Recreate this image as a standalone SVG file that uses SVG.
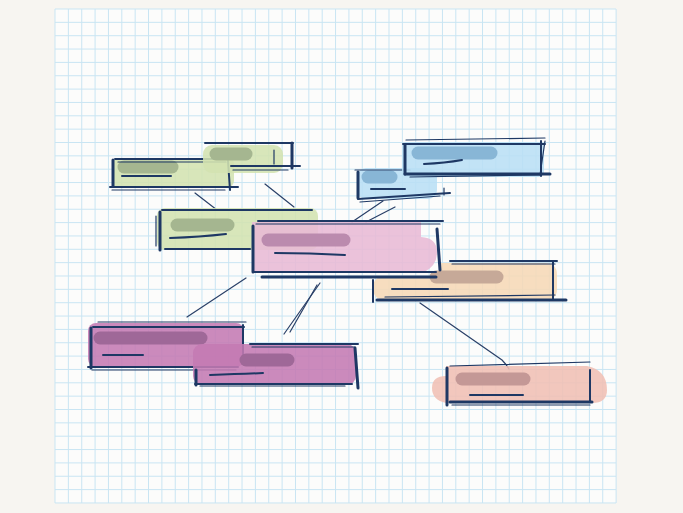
<svg xmlns="http://www.w3.org/2000/svg" width="683" height="513" viewBox="0 0 683 513">
<style>
.grid{fill:none;stroke:#c9e5f3;stroke-width:1}
.ink{fill:none;stroke:#1e3864;stroke-linecap:round;stroke-linejoin:round}
.w3{stroke-width:3}
.w2{stroke-width:2}
.w1{stroke-width:1.2}
.pill{stroke-linecap:round;fill:none;stroke-width:13}
.f{fill-opacity:0.88}
.green{fill:#d3e2b0}
.greenp{stroke:#a5b690}
.blue{fill:#b9dff5}
.bluep{stroke:#88b6d6}
.pink{fill:#e8b9d5}
.pinkp{stroke:#bb8bae}
.peach{fill:#f6d8b6}
.peachp{stroke:#c6a998}
.purple{fill:#c47ab3}
.purplep{stroke:#9f6898}
.salmon{fill:#f0bfb4}
.salmonp{stroke:#c49896}
.conn{fill:none;stroke:#2a4068;stroke-width:1.2;stroke-linecap:round}
</style>
<rect width="683" height="513" fill="#f7f5f1"/>
<rect x="55" y="9" width="561" height="494" fill="#fcfcfb"/>
<path class="grid" d="M55 9V503M68.36 9V503M81.72 9V503M95.08 9V503M108.44 9V503M121.8 9V503M135.16 9V503M148.52 9V503M161.88 9V503M175.24 9V503M188.6 9V503M201.96 9V503M215.32 9V503M228.68 9V503M242.04 9V503M255.4 9V503M268.76 9V503M282.12 9V503M295.48 9V503M308.84 9V503M322.2 9V503M335.56 9V503M348.92 9V503M362.28 9V503M375.64 9V503M389 9V503M402.36 9V503M415.72 9V503M429.08 9V503M442.44 9V503M455.8 9V503M469.16 9V503M482.52 9V503M495.88 9V503M509.24 9V503M522.6 9V503M535.96 9V503M549.32 9V503M562.68 9V503M576.04 9V503M589.4 9V503M602.76 9V503M616.12 9V503M55 9H616M55 22.35H616M55 35.7H616M55 49.05H616M55 62.4H616M55 75.75H616M55 89.1H616M55 102.45H616M55 115.8H616M55 129.15H616M55 142.5H616M55 155.85H616M55 169.2H616M55 182.55H616M55 195.9H616M55 209.25H616M55 222.6H616M55 235.95H616M55 249.3H616M55 262.65H616M55 276H616M55 289.35H616M55 302.7H616M55 316.05H616M55 329.4H616M55 342.75H616M55 356.1H616M55 369.45H616M55 382.8H616M55 396.15H616M55 409.5H616M55 422.85H616M55 436.2H616M55 449.55H616M55 462.9H616M55 476.25H616M55 489.6H616M55 502.95H616"/>

<g id="connectors">
<path class="conn" d="M195 193 L217 210"/>
<path class="conn" d="M265 184 L294 207"/>
<path class="conn" d="M383 201 L352 222"/>
<path class="conn" d="M395 207 L366 222"/>
<path class="conn" d="M246 278 L187 317"/>
<path class="conn" d="M320 283 L284 334"/>
<path class="conn" d="M317 285 L290 332"/>
<path class="conn" d="M420 303 L502 360 Q506 364 509 369"/>
</g>

<g id="node-green-a">
<rect class="green f" x="112" y="158" width="122" height="29" rx="6"/>
<path class="pill greenp" d="M124 167 H172"/>
<path class="ink w2" d="M115 159 H232"/>
<path class="ink w1" d="M118 162 H226"/>
<path class="ink w3" d="M113 160 V186"/>
<path class="ink w2" d="M110 187 H238"/>
<path class="ink w1" d="M112 190 H225"/>
<path class="ink w2" d="M228 161 L230 190" stroke="#3a3a3a"/>
<path class="ink w2" d="M122 176 H171"/>
</g>

<g id="node-green-b">
<rect class="green f" x="203" y="145" width="80" height="28" rx="9"/>
<path class="pill greenp" d="M216 154 H246"/>
<path class="ink w2" d="M205 143 H293"/>
<path class="ink w3" d="M292 143 V168"/>
<path class="ink w2" d="M231 166 H300"/>
<path class="ink w1" d="M233 170 H288"/>
<path class="ink w1" d="M274 150 V164"/>
</g>

<g id="node-green-c">
<rect class="green f" x="157" y="208" width="161" height="42" rx="8"/>
<path class="pill greenp" d="M177 225 H228"/>
<path class="ink w2" d="M162 210 H312"/>
<path class="ink w3" d="M160 212 V250"/>
<path class="ink w1" d="M156 216 V246"/>
<path class="ink w2" d="M165 249 H250"/>
<path class="ink w2" d="M170 238 Q200 237 226 234"/>
</g>

<g id="node-blue-e">
<rect class="blue f" x="357" y="168" width="80" height="31" rx="9"/>
<path class="pill bluep" d="M368 177 H391"/>
<path class="ink w1" d="M355 170 H410"/>
<path class="ink w3" d="M358 172 V198"/>
<path class="ink w2" d="M358 199 L450 193"/>
<path class="ink w1" d="M360 202 L440 196"/>
<path class="ink w1" d="M444 188 V195"/>
<path class="ink w2" d="M371 189 H405"/>
</g>

<g id="node-blue-f">
<rect class="blue f" x="402" y="142" width="142" height="35" rx="5"/>
<path class="pill bluep" d="M418 153 H491"/>
<path class="ink w1" d="M406 140 L545 138"/>
<path class="ink w2" d="M403 144 H545"/>
<path class="ink w3" d="M405 145 V174"/>
<path class="ink w2" d="M541 141 V176"/>
<path class="ink w1" d="M545 141 L540 175"/>
<path class="ink w3" d="M405 174 H550"/>
<path class="ink w1" d="M410 177 L540 175"/>
<path class="ink w2" d="M424 164 Q445 163 462 160"/>
</g>

<g id="node-peach-g">
<path class="peach f" d="M386 276 H440 V263 H545 Q557 263 557 275 V289 Q557 300 545 300 H386 Q373 300 373 288 Q373 276 386 276 Z"/>
<path class="pill peachp" d="M436 277 H497"/>
<path class="ink w2" d="M450 261 H557"/>
<path class="ink w1" d="M452 264 H555"/>
<path class="ink w2" d="M553 262 V300"/>
<path class="ink w2" d="M373 280 V302"/>
<path class="ink w3" d="M377 300 H566"/>
<path class="ink w1" d="M385 297 L555 295"/>
<path class="ink w2" d="M392 289 H448"/>
</g>

<g id="node-pink-d">
<path class="pink f" d="M252 222 H421 V237 Q437 238 437 252 Q437 266 424 272 H252 Z"/>
<path class="pill pinkp" d="M268 240 H344"/>
<path class="ink w2" d="M258 221 H443"/>
<path class="ink w1" d="M256 224 H440"/>
<path class="ink w3" d="M253 226 V272"/>
<path class="ink w3" d="M437 229 L440 270"/>
<path class="ink w2" d="M253 272 H436"/>
<path class="ink w3" d="M262 277 H436"/>
<path class="ink w2" d="M275 253 Q310 253 345 255"/>
</g>

<g id="node-purple-h">
<rect class="purple f" x="88" y="323" width="156" height="44" rx="8"/>
<path class="pill purplep" d="M100 338 H201"/>
<path class="ink w1" d="M98 322 H246"/>
<path class="ink w2" d="M93 327 H244"/>
<path class="ink w3" d="M91 328 V368"/>
<path class="ink w2" d="M243 325 V362"/>
<path class="ink w2" d="M88 367 H238"/>
<path class="ink w1" d="M92 370 H236"/>
<path class="ink w2" d="M103 355 H143"/>
</g>

<g id="node-purple-i">
<rect class="purple f" x="193" y="344" width="163" height="41" rx="9"/>
<path class="pill purplep" d="M246 360 H288"/>
<path class="ink w2" d="M250 344 H358"/>
<path class="ink w1" d="M252 347 H355"/>
<path class="ink w3" d="M355 348 L358 388"/>
<path class="ink w3" d="M196 370 V385"/>
<path class="ink w2" d="M195 384 H352"/>
<path class="ink w1" d="M200 386 H345"/>
<path class="ink w2" d="M210 375 Q240 374 263 373"/>
</g>

<g id="node-salmon-j">
<path class="salmon f" d="M446 366 H587 Q607 370 607 390 Q607 403 592 403 H446 Q432 400 432 388 Q432 376 446 376 Z"/>
<path class="pill salmonp" d="M462 379 H524"/>
<path class="ink w1" d="M450 366 L590 362"/>
<path class="ink w3" d="M447 368 V405"/>
<path class="ink w2" d="M590 370 V402"/>
<path class="ink w3" d="M450 402 H592"/>
<path class="ink w1" d="M452 405 H590"/>
<path class="ink w2" d="M470 395 H523"/>
</g>
</svg>
